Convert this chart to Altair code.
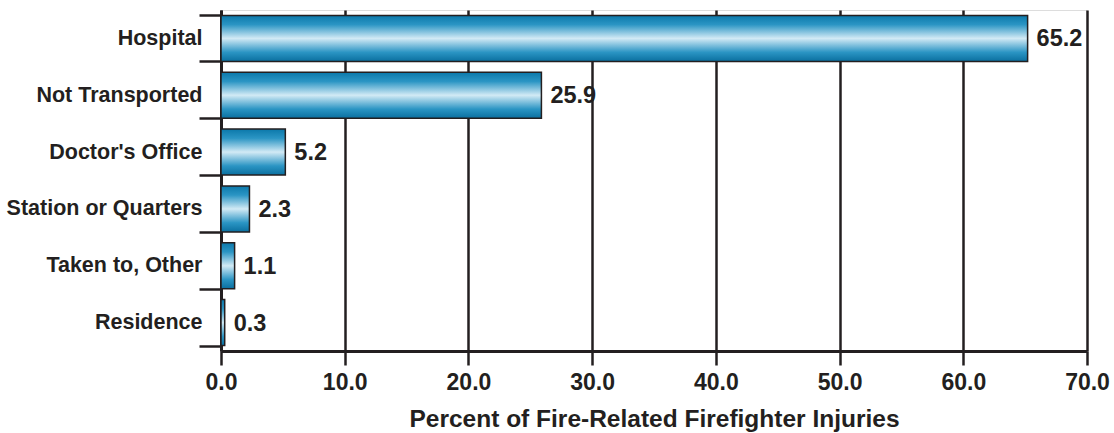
import altair as alt
import pandas as pd

categories = ["Hospital", "Not Transported", "Doctor's Office",
              "Station or Quarters", "Taken to, Other", "Residence"]
values = [65.2, 25.9, 5.2, 2.3, 1.1, 0.3]
labels = ["65.2", "25.9", "5.2", "2.3", "1.1", "0.3"]
x_ticks = [0, 10, 20, 30, 40, 50, 60, 70]

df = pd.DataFrame({"cat": categories, "val": values, "lab": labels})

INK = "#231f20"
FONT = "Liberation Sans, Arial, sans-serif"

grad = alt.LinearGradient(
    gradient="linear",
    stops=[
        alt.GradientStop(color="#0b78aa", offset=0),
        alt.GradientStop(color="#2b95c4", offset=0.2),
        alt.GradientStop(color="#d2eaf5", offset=0.5),
        alt.GradientStop(color="#2b95c4", offset=0.8),
        alt.GradientStop(color="#0a6f9f", offset=1),
    ],
    x1=0, x2=0, y1=0, y2=1,
)

y_enc = alt.Y(
    "cat:N",
    sort=categories,
    scale=alt.Scale(paddingInner=0.19, paddingOuter=0.095),
    axis=alt.Axis(
        title=None,
        tickBand="extent",
        tickSize=22,
        tickWidth=2.5,
        tickColor=INK,
        domainColor=INK,
        domainWidth=3,
        labelFont=FONT,
        labelFontSize=21.5,
        labelFontWeight="bold",
        labelColor=INK,
        labelPadding=-3,
        labelLimit=300,
    ),
)

x_enc = alt.X(
    "val:Q",
    scale=alt.Scale(domain=[0, 70], nice=False),
    axis=alt.Axis(
        title="Percent of Fire-Related Firefighter Injuries",
        values=x_ticks,
        format=".1f",
        grid=True,
        gridColor=INK,
        gridWidth=2.5,
        gridOpacity=1,
        tickSize=14,
        tickWidth=2.5,
        tickColor=INK,
        domainColor=INK,
        domainWidth=3,
        labelFont=FONT,
        labelFontSize=23,
        labelFontWeight="bold",
        labelColor=INK,
        labelPadding=6,
        labelFlush=False,
        titleFont=FONT,
        titleFontSize=24.5,
        titleFontWeight="bold",
        titleColor=INK,
        titlePadding=13,
    ),
)

bars = alt.Chart(df).mark_bar(
    color=grad, stroke=INK, strokeWidth=1.5
).encode(x=x_enc, y=y_enc)

text = alt.Chart(df).mark_text(
    align="left", baseline="middle", dx=9, dy=1, font=FONT,
    fontSize=23.5, fontWeight="bold", color=INK
).encode(x="val:Q", y=alt.Y("cat:N", sort=categories), text="lab:N")

chart = (bars + text).properties(
    width=866, height=341,
    autosize=alt.AutoSizeParams(type="none"),
    padding={"left": 221, "top": 10, "right": 27, "bottom": 82},
).configure_view(stroke=INK, strokeWidth=2.5).configure(background="white")

chart.save("out.html", embed_options={"renderer": "svg", "actions": False})
